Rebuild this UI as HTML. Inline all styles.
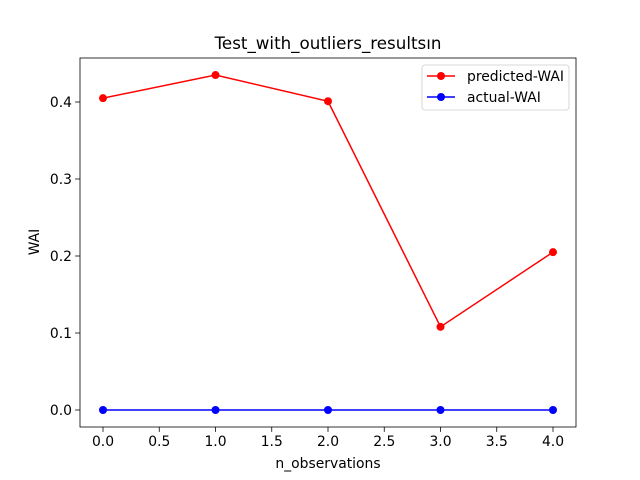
<!DOCTYPE html>
<html><head><meta charset="utf-8"><style>body{margin:0;background:#fff}svg{display:block;font-family:"DejaVu Sans","Liberation Sans",sans-serif}</style></head>
<body>
<svg id="c" width="640" height="480" xmlns="http://www.w3.org/2000/svg"></svg>
<script>
const categories=[0,1,2,3,4];
const predicted=[0.405,0.435,0.401,0.108,0.205];
const actual=[0,0,0,0,0];
const xTicks=[0,0.5,1,1.5,2,2.5,3,3.5,4];
const yTicks=[0,0.1,0.2,0.3,0.4];
const svg=document.getElementById('c');
const NS='http://www.w3.org/2000/svg';
const L=80,R=576,T=58,B=427;
const X=v=>103+v*112.5;
const Y=v=>410-v*770;
function el(t,a,p){const e=document.createElementNS(NS,t);for(const k in a)e.setAttribute(k,a[k]);(p||svg).appendChild(e);return e;}
const frame=el('rect',{x:L,y:T,width:R-L,height:B-T,fill:'none',stroke:'#000','stroke-width':0.8});


xTicks.forEach(v=>{
 const g=el('g',{});
 
 
 el('line',{x1:X(v),x2:X(v),y1:B,y2:B+4.9,stroke:'#000','stroke-width':0.8},g);
 const t=el('text',{x:X(v),y:B+19,'font-size':13.9,'text-anchor':'middle'},g);t.textContent=v.toFixed(1);
});
yTicks.forEach(v=>{
 const g=el('g',{});
 
 
 el('line',{x1:L-4.9,x2:L,y1:Y(v),y2:Y(v),stroke:'#000','stroke-width':0.8},g);
 const t=el('text',{x:L-8,y:Y(v)+5,'font-size':13.9,'text-anchor':'end'},g);t.textContent=v.toFixed(1);
});
function series(vals,color,name){
 const g=el('g',{});
 
 
 el('polyline',{points:categories.map((c,i)=>X(c)+','+Y(vals[i])).join(' '),fill:'none',stroke:color,'stroke-width':1.5},g);
 categories.forEach((c,i)=>{const p=el('circle',{cx:X(c),cy:Y(vals[i]),r:4,fill:color},g);
  
  });
}
series(predicted,'#ff0000','predicted-wai-series');
series(actual,'#0000ff','actual-wai-series');
const tt=el('text',{x:328,y:49,'font-size':16.7,'text-anchor':'middle'});tt.textContent='Test_with_outliers_resultsın';


const xl=el('text',{x:328,y:468,'font-size':13.9,'text-anchor':'middle'});xl.textContent='n_observations';


const yl=el('text',{x:39,y:242,'font-size':13.9,'text-anchor':'middle',transform:'rotate(-90 39 242)'});yl.textContent='WAI';


const lg=el('g',{});


el('rect',{x:422,y:65,width:147,height:45,rx:3,fill:'#fff',stroke:'#ccc','stroke-width':0.8},lg);
[['predicted-WAI','#ff0000',76],['actual-WAI','#0000ff',97]].forEach(([n,c,y])=>{
 const g=el('g',{},lg);
 
 
 el('line',{x1:427,x2:455,y1:y,y2:y,stroke:c,'stroke-width':1.5},g);
 el('circle',{cx:441,cy:y,r:4,fill:c},g);
 const t=el('text',{x:467,y:y+5,'font-size':13.9},g);t.textContent=n;
});
</script>
</body></html>
